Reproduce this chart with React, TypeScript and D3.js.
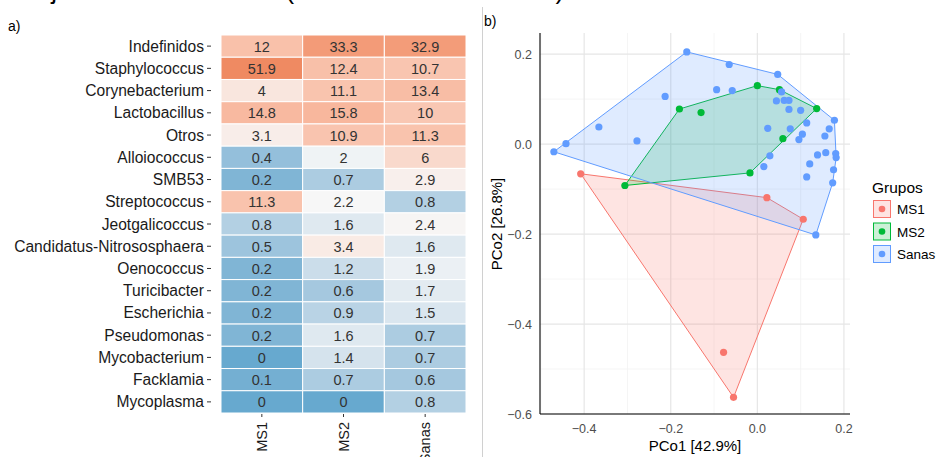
import React from 'react';
import * as d3 from 'd3';

// heatmap data (relative abundance %)
const taxa = [
  'Indefinidos', 'Staphylococcus', 'Corynebacterium', 'Lactobacillus', 'Otros',
  'Alloiococcus', 'SMB53', 'Streptococcus', 'Jeotgalicoccus', 'Candidatus-Nitrososphaera',
  'Oenococcus', 'Turicibacter', 'Escherichia', 'Pseudomonas', 'Mycobacterium',
  'Facklamia', 'Mycoplasma',
];
const groups = ['MS1', 'MS2', 'Sanas'];
const ms1Values = [12, 51.9, 4, 14.8, 3.1, 0.4, 0.2, 11.3, 0.8, 0.5, 0.2, 0.2, 0.2, 0.2, 0, 0.1, 0];
const ms2Values = [33.3, 12.4, 11.1, 15.8, 10.9, 2, 0.7, 2.2, 1.6, 3.4, 1.2, 0.6, 0.9, 1.6, 1.4, 0.7, 0];
const sanasValues = [32.9, 10.7, 13.4, 10, 11.3, 6, 2.9, 0.8, 2.4, 1.6, 1.9, 1.7, 1.5, 0.7, 0.7, 0.6, 0.8];

// PCoA coordinates
const ms1Points = [
  [-0.408, -0.066], [0.022, -0.119], [0.106, -0.167], [-0.078, -0.463], [-0.055, -0.563],
];
const ms2Points = [
  [-0.180, 0.078], [-0.130, 0.070], [-0.306, -0.092], [0.000, 0.130],
  [0.051, 0.121], [0.137, 0.079], [0.059, 0.012], [-0.017, -0.064],
];
const sanasPoints = [
  [-0.163, 0.205], [-0.213, 0.106], [-0.366, 0.038], [-0.442, 0.001], [-0.470, -0.017],
  [-0.278, 0.007], [-0.065, 0.177], [0.047, 0.155], [-0.094, 0.121], [-0.058, 0.119],
  [0.056, 0.116], [0.044, 0.096], [0.062, 0.097], [0.073, 0.097], [0.073, 0.077],
  [0.100, 0.075], [0.178, 0.053], [0.166, 0.034], [0.156, 0.018], [0.114, 0.047],
  [0.024, 0.035], [0.076, 0.034], [0.104, 0.022], [0.096, 0.010], [0.029, -0.026],
  [0.015, -0.050], [0.139, -0.024], [0.158, -0.019], [0.181, -0.021], [0.182, -0.030],
  [0.121, -0.044], [0.176, -0.057], [0.114, -0.073], [0.174, -0.086], [0.135, -0.202],
];
const xTicks = [-0.4, -0.2, 0.0, 0.2];
const yTicks = [-0.6, -0.4, -0.2, 0.0, 0.2];
const xMinor = [-0.5, -0.3, -0.1, 0.1];
const yMinor = [-0.5, -0.3, -0.1, 0.1];

const groupColors = ['#F8766D', '#00BA38', '#619CFF'];
const font = 'Liberation Sans, Arial, sans-serif';

const App = () => {
  const W = 936, H = 457;

  // heatmap scales
  const hx = d3.scaleBand().domain(groups).range([221, 466]);
  const hy = d3.scaleBand().domain(taxa).range([35, 413]);
  const lg = (v: number) => Math.log1p(v);
  const fill = d3.scaleLinear<string>()
    .domain([0, lg(2.2), lg(51.9)])
    .range(['#67a9cf', '#f7f7f7', '#ef8a62'])
    .interpolate(d3.interpolateLab);
  const columns = [ms1Values, ms2Values, sanasValues];

  // scatter scales
  const x = d3.scaleLinear().domain([-0.502, 0.214]).range([540, 850]);
  const y = d3.scaleLinear().domain([-0.6, 0.247]).range([414, 33]);
  const sets = [ms1Points, ms2Points, sanasPoints];
  const fmt = d3.format('.1f');

  return (
    <svg width={W} height={H} style={{ position: 'absolute', left: 0, top: 0, fontFamily: font }}>
      <rect width={W} height={H} fill="#fff" />
      <text x={8} y={-1} fontSize={26} fill="#000">Orejas sanas vs OMSS (MS1 vs MS2 vs Sanas)</text>
      <line x1={482.5} x2={482.5} y1={7} y2={H} stroke="#d0d0d0" />

      {/* a) heatmap */}
      <text x={8} y={31} fontSize={14} fill="#000">a)</text>
      {columns.map((vals, ci) => vals.map((v, ri) => (
        <g key={`${ci}-${ri}`}>
          <rect x={hx(groups[ci])!} y={hy(taxa[ri])!} width={hx.bandwidth()} height={hy.bandwidth()}
            fill={fill(lg(v))} stroke="#fff" strokeWidth={1} />
          <text x={hx(groups[ci])! + hx.bandwidth() / 2} y={hy(taxa[ri])! + hy.bandwidth() / 2 + 5.5}
            fontSize={14.5} textAnchor="middle" fill="#333">{v}</text>
        </g>
      )))}
      {taxa.map(t => (
        <g key={t}>
          <text x={204} y={hy(t)! + hy.bandwidth() / 2 + 5.5} fontSize={15.6} textAnchor="end" fill="#1a1a1a">{t}</text>
          <line x1={207} x2={211} y1={hy(t)! + hy.bandwidth() / 2} y2={hy(t)! + hy.bandwidth() / 2} stroke="#333" />
        </g>
      ))}
      {groups.map(g => {
        const cx = hx(g)! + hx.bandwidth() / 2;
        return (
          <g key={g}>
            <line x1={cx} x2={cx} y1={414} y2={417} stroke="#333" />
            <text transform={`translate(${cx + 5},${422}) rotate(-90)`} fontSize={14.5} textAnchor="end" fill="#1a1a1a">{g}</text>
          </g>
        );
      })}

      {/* b) PCoA */}
      <text x={484} y={26} fontSize={14} fill="#000">b)</text>
      {xMinor.map(v => <line key={'xm' + v} x1={x(v)} x2={x(v)} y1={33} y2={414} stroke="#f2f2f2" strokeWidth={0.8} />)}
      {yMinor.map(v => <line key={'ym' + v} x1={540} x2={850} y1={y(v)} y2={y(v)} stroke="#f2f2f2" strokeWidth={0.8} />)}
      {xTicks.map(v => <line key={'xg' + v} x1={x(v)} x2={x(v)} y1={33} y2={414} stroke="#e6e6e6" strokeWidth={1.2} />)}
      {yTicks.map(v => <line key={'yg' + v} x1={540} x2={850} y1={y(v)} y2={y(v)} stroke="#e6e6e6" strokeWidth={1.2} />)}

      {sets.map((pts, i) => {
        const hull = d3.polygonHull(pts.map(p => [x(p[0]), y(p[1])] as [number, number]))!;
        return (
          <path key={'h' + i} d={'M' + hull.map(p => p.join(',')).join('L') + 'Z'}
            fill={groupColors[i]} fillOpacity={0.2} stroke={groupColors[i]} strokeWidth={1} />
        );
      })}
      {sets.map((pts, i) => pts.map((p, j) => (
        <circle key={`p${i}-${j}`} cx={x(p[0])} cy={y(p[1])} r={3.6} fill={groupColors[i]} />
      )))}

      <line x1={540} x2={540} y1={33} y2={414} stroke="#000" strokeWidth={1.1} />
      <line x1={540} x2={850} y1={414} y2={414} stroke="#000" strokeWidth={1.1} />
      {xTicks.map(v => (
        <text key={'xt' + v} x={x(v)} y={433} fontSize={12.5} textAnchor="middle" fill="#4d4d4d">{fmt(v)}</text>
      ))}
      {yTicks.map(v => (
        <text key={'yt' + v} x={532} y={y(v) + 4.5} fontSize={12.5} textAnchor="end" fill="#4d4d4d">{fmt(v)}</text>
      ))}
      <text x={695} y={451} fontSize={15} textAnchor="middle" fill="#000">PCo1 [42.9%]</text>
      <text transform={`translate(502,224) rotate(-90)`} fontSize={15} textAnchor="middle" fill="#000">PCo2 [26.8%]</text>

      {/* legend */}
      <text x={872} y={193} fontSize={15.5} fill="#000">Grupos</text>
      {groups.map((g, i) => (
        <g key={'l' + g}>
          <rect x={873.5} y={200.5 + i * 22.5} width={17} height={17} fill={groupColors[i]} fillOpacity={0.2}
            stroke={groupColors[i]} strokeWidth={1} />
          <circle cx={882} cy={209 + i * 22.5} r={3.3} fill={groupColors[i]} />
          <text x={897} y={214 + i * 22.5} fontSize={13.5} fill="#000">{g}</text>
        </g>
      ))}
    </svg>
  );
};

export default App;
